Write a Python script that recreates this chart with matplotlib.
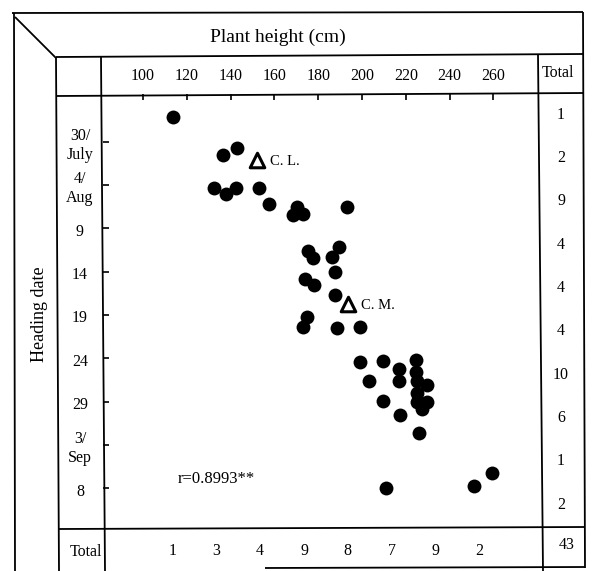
import matplotlib
matplotlib.use("Agg")
import matplotlib.pyplot as plt
from matplotlib.lines import Line2D
import matplotlib.transforms as mtrans

plt.rcParams['font.family'] = ['Liberation Serif', 'DejaVu Serif']

# ---------------- data ----------------
# plant height (cm) and heading date (days after 30 July)
plant_height = [113.7, 136.5, 142.9, 132.4, 137.9, 142.5, 153.0, 157.5, 170.3, 168.5,
                173.1, 193.2, 175.3, 177.6, 189.5, 186.3, 174.0, 178.1, 187.7, 187.7,
                174.9, 173.1, 188.6, 199.1, 199.1, 209.6, 224.7, 224.7, 216.9, 216.9,
                203.2, 225.1, 229.7, 225.1, 209.6, 225.1, 229.7, 227.4, 217.4, 226.0,
                259.4, 211.0, 251.1]
heading_day = [-2.9, 1.5, 0.7, 5.3, 6.0, 5.4, 5.3, 7.2, 7.6, 8.5,
               8.4, 7.5, 12.6, 13.4, 12.2, 13.3, 15.8, 16.6, 15.1, 17.7,
               20.2, 21.4, 21.5, 21.4, 25.4, 25.3, 25.2, 26.6, 26.3, 27.6,
               27.6, 27.6, 28.1, 29.0, 29.9, 30.1, 30.0, 30.9, 31.5, 33.6,
               38.2, 40.0, 39.8]

check_names = ['C. L.', 'C. M.']
check_height = [152.1, 193.6]
check_day = [2.1, 18.7]

x_ticks = [100, 120, 140, 160, 180, 200, 220, 240, 260]
x_tick_labels = ['100', '120', '140', '160', '180', '200', '220', '240', '260']
y_ticks = [0, 5, 10, 15, 20, 25, 30, 35, 40]
y_tick_labels = ['30/\nJuly', '4/\nAug', '9', '14', '19', '24', '29', '3/\nSep', '8']

row_totals = [1, 2, 9, 4, 4, 4, 10, 6, 1, 2]
row_centers = [-2.5, 2.5, 7.5, 12.5, 17.5, 22.5, 27.5, 32.5, 37.5, 42.5]
col_totals = [1, 3, 4, 9, 8, 7, 9, 2]
col_centers = [110, 130, 150, 170, 190, 210, 230, 250]
grand_total = 43
r_text = 'r=0.8993**'

# ---------------- figure ----------------
W, H = 594, 571
fig = plt.figure(figsize=(W / 100, H / 100), dpi=100)

def fx(px):
    return px / W

def fy(py):
    return 1 - py / H

# overlay for table lines (pixel coordinates)
ov = fig.add_axes([0, 0, 1, 1])
ov.set_xlim(0, W)
ov.set_ylim(H, 0)
ov.axis('off')

lw = 1.3
def seg(x0, y0, x1, y1, lw_=lw):
    ov.add_line(Line2D([x0, x1], [y0, y1], color='black', lw=lw_, solid_capstyle='butt'))

# outer frame / table lines
seg(12, 13, 583, 12)          # top outer
seg(14, 13, 15, 571)          # left outer
seg(583, 12, 585, 568)        # right outer
seg(15, 17, 56, 58)           # diagonal
seg(56, 57, 583, 54)          # under the header
seg(56, 57, 59, 571)          # label column line
seg(56, 96, 584, 93)          # under tick labels
seg(101, 57, 105, 571)        # plot left
seg(538, 54, 543, 571)        # Total column
seg(59, 529, 585, 527)        # plot bottom
seg(265, 568, 585, 567)       # bottom outer (partially visible)

# main axes
L, R, T, B = 103, 541, 94, 528
ax = fig.add_axes([fx(L), fy(B), fx(R) - fx(L), fy(T) - fy(B)])
ax.set_xlim(81.7, 281.7)
ax.set_ylim(44.6, -5.5)
for s in ax.spines.values():
    s.set_visible(False)
ax.patch.set_alpha(0)

ax.scatter(plant_height, heading_day, s=100, c='black', marker='o', linewidths=0, zorder=3)
ax.scatter(check_height, check_day, s=110, marker='^', facecolors='white',
           edgecolors='black', linewidths=2.2, zorder=3)
for name, hx, dy in zip(check_names, check_height, check_day):
    ax.annotate(name, (hx, dy), xytext=(9, -1), textcoords='offset points',
                ha='left', va='center', fontsize=10.5)

ax.text(116, 38.9, r_text, ha='left', va='center', fontsize=12)

# ticks (inward)
ax.xaxis.tick_top()
ax.set_xticks(x_ticks)
ax.set_xticklabels([])
ax.set_yticks(y_ticks)
ax.set_yticklabels([])
ax.tick_params(axis='both', direction='in', length=4, width=1.2, color='black')

# x tick labels in header row
tr_x = mtrans.blended_transform_factory(ax.transData, fig.transFigure)
for v, lab in zip(x_ticks, x_tick_labels):
    ax.text(v, fy(76), lab, transform=tr_x, ha='center', va='center', fontsize=11.5)

# y tick labels in label column
tr_y = mtrans.blended_transform_factory(fig.transFigure, ax.transData)
for v, lab in zip(y_ticks, y_tick_labels):
    ax.text(fx(80), v + 0.4, lab, transform=tr_y, ha='center', va='center',
            fontsize=11.5, linespacing=1.25)

# row totals
ax.text(fx(558), fy(73), 'Total', transform=fig.transFigure, ha='center', va='center', fontsize=11.5)
for v, c in zip(row_totals, row_centers):
    ax.text(fx(561), c - 0.6, str(v), transform=tr_y, ha='center', va='center', fontsize=11.5)

# column totals
ax.text(fx(86), fy(552), 'Total', transform=fig.transFigure, ha='center', va='center', fontsize=11.5)
for v, c in zip(col_totals, col_centers):
    ax.text(c + 3.5, fy(551), str(v), transform=tr_x, ha='center', va='center', fontsize=11.5)
ax.text(fx(567), fy(545), str(grand_total), transform=fig.transFigure,
        ha='center', va='center', fontsize=11.5)

# header and side titles
fig.text(fx(278), fy(37), 'Plant height (cm)', ha='center', va='center', fontsize=14)
fig.text(fx(40), fy(314), 'Heading date', ha='center', va='center', rotation=90, fontsize=13)

fig.savefig('out.png', dpi=100, facecolor='white')
